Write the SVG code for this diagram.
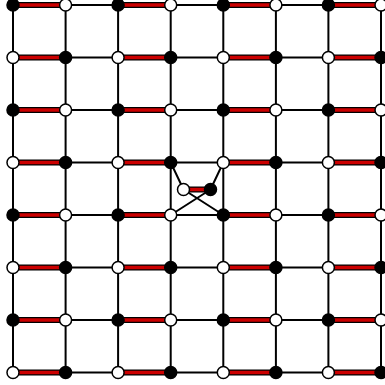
<svg xmlns="http://www.w3.org/2000/svg" width="385" height="385" viewBox="0 0 385 385">
<style>
.e{stroke:#000;stroke-width:2;fill:none}
.ro{stroke:#000;stroke-width:6;fill:none}
.ri{stroke:#cc0000;stroke-width:3.6;fill:none}
.b{fill:#000;stroke:#000;stroke-width:1.5}
.w{fill:#fff;stroke:#000;stroke-width:1.5}
</style>
<rect width="385" height="385" fill="#fff"/>
<g id="connectors">
<path class="e" d="M13,5V372.5M65.6,5V372.5M118.1,5V372.5M170.7,5V372.5M223.3,5V372.5M275.9,5V372.5M328.4,5V372.5M381,5V372.5"/>
<path class="e" d="M65.6,5H118.1M170.7,5H223.3M275.9,5H328.4M65.6,57.5H118.1M170.7,57.5H223.3M275.9,57.5H328.4M65.6,110H118.1M170.7,110H223.3M275.9,110H328.4M65.6,162.5H118.1M170.7,162.5H223.3M275.9,162.5H328.4M65.6,215H118.1M170.7,215H223.3M275.9,215H328.4M65.6,267.5H118.1M170.7,267.5H223.3M275.9,267.5H328.4M65.6,320H118.1M170.7,320H223.3M275.9,320H328.4M65.6,372.5H118.1M170.7,372.5H223.3M275.9,372.5H328.4"/>
<path class="e" d="M170.7,162.5L183.5,189.5M223.3,162.5L210.5,189.5M183.5,189.5L223.3,215M210.5,189.5L170.7,215"/>
<path class="ro" d="M13,5H65.6M118.1,5H170.7M223.3,5H275.9M328.4,5H381M13,57.5H65.6M118.1,57.5H170.7M223.3,57.5H275.9M328.4,57.5H381M13,110H65.6M118.1,110H170.7M223.3,110H275.9M328.4,110H381M13,162.5H65.6M118.1,162.5H170.7M223.3,162.5H275.9M328.4,162.5H381M13,215H65.6M118.1,215H170.7M223.3,215H275.9M328.4,215H381M13,267.5H65.6M118.1,267.5H170.7M223.3,267.5H275.9M328.4,267.5H381M13,320H65.6M118.1,320H170.7M223.3,320H275.9M328.4,320H381M13,372.5H65.6M118.1,372.5H170.7M223.3,372.5H275.9M328.4,372.5H381M183.5,189.5H210.5"/>
<path class="ri" d="M13,5H65.6M118.1,5H170.7M223.3,5H275.9M328.4,5H381M13,57.5H65.6M118.1,57.5H170.7M223.3,57.5H275.9M328.4,57.5H381M13,110H65.6M118.1,110H170.7M223.3,110H275.9M328.4,110H381M13,162.5H65.6M118.1,162.5H170.7M223.3,162.5H275.9M328.4,162.5H381M13,215H65.6M118.1,215H170.7M223.3,215H275.9M328.4,215H381M13,267.5H65.6M118.1,267.5H170.7M223.3,267.5H275.9M328.4,267.5H381M13,320H65.6M118.1,320H170.7M223.3,320H275.9M328.4,320H381M13,372.5H65.6M118.1,372.5H170.7M223.3,372.5H275.9M328.4,372.5H381M183.5,189.5H210.5"/>
</g>
<g id="nodes">
<g id="n0_0"><circle class="b" cx="13" cy="5" r="6"/></g>
<g id="n0_1"><circle class="w" cx="65.6" cy="5" r="6"/></g>
<g id="n0_2"><circle class="b" cx="118.1" cy="5" r="6"/></g>
<g id="n0_3"><circle class="w" cx="170.7" cy="5" r="6"/></g>
<g id="n0_4"><circle class="b" cx="223.3" cy="5" r="6"/></g>
<g id="n0_5"><circle class="w" cx="275.9" cy="5" r="6"/></g>
<g id="n0_6"><circle class="b" cx="328.4" cy="5" r="6"/></g>
<g id="n0_7"><circle class="w" cx="381" cy="5" r="6"/></g>
<g id="n1_0"><circle class="w" cx="13" cy="57.5" r="6"/></g>
<g id="n1_1"><circle class="b" cx="65.6" cy="57.5" r="6"/></g>
<g id="n1_2"><circle class="w" cx="118.1" cy="57.5" r="6"/></g>
<g id="n1_3"><circle class="b" cx="170.7" cy="57.5" r="6"/></g>
<g id="n1_4"><circle class="w" cx="223.3" cy="57.5" r="6"/></g>
<g id="n1_5"><circle class="b" cx="275.9" cy="57.5" r="6"/></g>
<g id="n1_6"><circle class="w" cx="328.4" cy="57.5" r="6"/></g>
<g id="n1_7"><circle class="b" cx="381" cy="57.5" r="6"/></g>
<g id="n2_0"><circle class="b" cx="13" cy="110" r="6"/></g>
<g id="n2_1"><circle class="w" cx="65.6" cy="110" r="6"/></g>
<g id="n2_2"><circle class="b" cx="118.1" cy="110" r="6"/></g>
<g id="n2_3"><circle class="w" cx="170.7" cy="110" r="6"/></g>
<g id="n2_4"><circle class="b" cx="223.3" cy="110" r="6"/></g>
<g id="n2_5"><circle class="w" cx="275.9" cy="110" r="6"/></g>
<g id="n2_6"><circle class="b" cx="328.4" cy="110" r="6"/></g>
<g id="n2_7"><circle class="w" cx="381" cy="110" r="6"/></g>
<g id="n3_0"><circle class="w" cx="13" cy="162.5" r="6"/></g>
<g id="n3_1"><circle class="b" cx="65.6" cy="162.5" r="6"/></g>
<g id="n3_2"><circle class="w" cx="118.1" cy="162.5" r="6"/></g>
<g id="n3_3"><circle class="b" cx="170.7" cy="162.5" r="6"/></g>
<g id="n3_4"><circle class="w" cx="223.3" cy="162.5" r="6"/></g>
<g id="n3_5"><circle class="b" cx="275.9" cy="162.5" r="6"/></g>
<g id="n3_6"><circle class="w" cx="328.4" cy="162.5" r="6"/></g>
<g id="n3_7"><circle class="b" cx="381" cy="162.5" r="6"/></g>
<g id="n4_0"><circle class="b" cx="13" cy="215" r="6"/></g>
<g id="n4_1"><circle class="w" cx="65.6" cy="215" r="6"/></g>
<g id="n4_2"><circle class="b" cx="118.1" cy="215" r="6"/></g>
<g id="n4_3"><circle class="w" cx="170.7" cy="215" r="6"/></g>
<g id="n4_4"><circle class="b" cx="223.3" cy="215" r="6"/></g>
<g id="n4_5"><circle class="w" cx="275.9" cy="215" r="6"/></g>
<g id="n4_6"><circle class="b" cx="328.4" cy="215" r="6"/></g>
<g id="n4_7"><circle class="w" cx="381" cy="215" r="6"/></g>
<g id="n5_0"><circle class="w" cx="13" cy="267.5" r="6"/></g>
<g id="n5_1"><circle class="b" cx="65.6" cy="267.5" r="6"/></g>
<g id="n5_2"><circle class="w" cx="118.1" cy="267.5" r="6"/></g>
<g id="n5_3"><circle class="b" cx="170.7" cy="267.5" r="6"/></g>
<g id="n5_4"><circle class="w" cx="223.3" cy="267.5" r="6"/></g>
<g id="n5_5"><circle class="b" cx="275.9" cy="267.5" r="6"/></g>
<g id="n5_6"><circle class="w" cx="328.4" cy="267.5" r="6"/></g>
<g id="n5_7"><circle class="b" cx="381" cy="267.5" r="6"/></g>
<g id="n6_0"><circle class="b" cx="13" cy="320" r="6"/></g>
<g id="n6_1"><circle class="w" cx="65.6" cy="320" r="6"/></g>
<g id="n6_2"><circle class="b" cx="118.1" cy="320" r="6"/></g>
<g id="n6_3"><circle class="w" cx="170.7" cy="320" r="6"/></g>
<g id="n6_4"><circle class="b" cx="223.3" cy="320" r="6"/></g>
<g id="n6_5"><circle class="w" cx="275.9" cy="320" r="6"/></g>
<g id="n6_6"><circle class="b" cx="328.4" cy="320" r="6"/></g>
<g id="n6_7"><circle class="w" cx="381" cy="320" r="6"/></g>
<g id="n7_0"><circle class="w" cx="13" cy="372.5" r="6"/></g>
<g id="n7_1"><circle class="b" cx="65.6" cy="372.5" r="6"/></g>
<g id="n7_2"><circle class="w" cx="118.1" cy="372.5" r="6"/></g>
<g id="n7_3"><circle class="b" cx="170.7" cy="372.5" r="6"/></g>
<g id="n7_4"><circle class="w" cx="223.3" cy="372.5" r="6"/></g>
<g id="n7_5"><circle class="b" cx="275.9" cy="372.5" r="6"/></g>
<g id="n7_6"><circle class="w" cx="328.4" cy="372.5" r="6"/></g>
<g id="n7_7"><circle class="b" cx="381" cy="372.5" r="6"/></g>
<g id="d_w"><circle class="w" cx="183.5" cy="189.5" r="6"/></g>
<g id="d_b"><circle class="b" cx="210.5" cy="189.5" r="6"/></g>
</g>
</svg>
